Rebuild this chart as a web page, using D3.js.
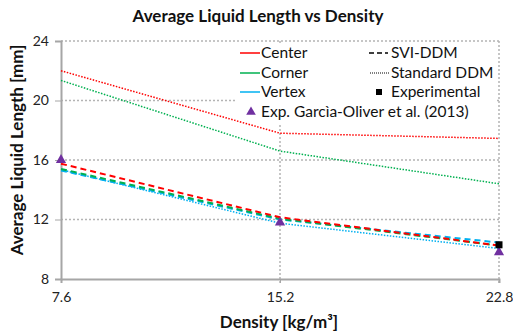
<!DOCTYPE html>
<html><head><meta charset="utf-8">
<script src="https://cdn.jsdelivr.net/npm/d3@7"></script>
<style>body{margin:0;background:#fff}svg{display:block;font-family:Lato,"Noto Sans",sans-serif}</style>
</head><body>
<svg id="c" width="513" height="335"></svg>
<script>
const densities = [7.6, 15.2, 22.8];
const yTicks = [8, 12, 16, 20, 24];
const sviCenter = [15.75, 12.15, 10.25];
const sviCorner = [15.4, 12.05, 10.25];
const sviVertex = [15.3, 12.0, 10.45];
const stdCenter = [22.0, 17.8, 17.45];
const stdCorner = [21.35, 16.6, 14.4];
const stdVertex = [15.35, 11.75, 10.05];
const experimental = [null, null, 10.3];
const garciaOliver = [16.0, 11.8, 9.8];

const svg = d3.select("#c");
const x = d3.scaleLinear().domain([7.6, 22.8]).range([61, 499]);
const y = d3.scaleLinear().domain([8, 24]).range([279, 41]);
const gridCol = "#b4b4b4", axisCol = "#a6a6a6";

// gridlines
svg.append("g").selectAll("line").data(yTicks.filter(d => d > 8)).join("line")
  .attr("x1", x(7.6)).attr("x2", x(22.8)).attr("y1", d => y(d)).attr("y2", d => y(d))
  .attr("stroke", gridCol).attr("stroke-width", 1.5).attr("stroke-dasharray", "2,2");
svg.append("g").selectAll("line").data(densities.slice(1)).join("line")
  .attr("x1", d => x(d)).attr("x2", d => x(d)).attr("y1", y(24)).attr("y2", y(8) + 4)
  .attr("stroke", gridCol).attr("stroke-width", 1.5).attr("stroke-dasharray", "2,2");

// legend background
svg.append("rect").attr("x", 237).attr("y", 43).attr("width", 259).attr("height", 81).attr("fill", "#fff");

// axes
const yAxis = d3.axisLeft(y).tickValues(yTicks).tickSize(6).tickFormat(d3.format("d"));
const gy = svg.append("g").attr("transform", `translate(${x(7.6)},0)`).call(yAxis);
gy.select(".domain").attr("stroke", axisCol).attr("stroke-width", 2);
gy.selectAll(".tick line").attr("stroke", axisCol);
gy.selectAll(".tick text").attr("font-size", 14).attr("fill", "#222").attr("x", -12).style("font-family", "Lato");
const xAxis = d3.axisBottom(x).tickValues(densities).tickSize(4).tickFormat(d3.format(".1f"));
const gx = svg.append("g").attr("transform", `translate(0,${y(8)})`).call(xAxis);
gx.select(".domain").attr("stroke", axisCol).attr("stroke-width", 2);
gx.selectAll(".tick line").attr("stroke", axisCol);
gx.selectAll(".tick text").attr("font-size", 14).attr("fill", "#222").attr("y", 13).style("font-family", "Lato");

// lines
const line = d3.line().defined(d => d[1] != null).x(d => x(d[0])).y(d => y(d[1])).curve(d3.curveLinear);
const series = [
  {v: stdCenter, c: "#ff0000", dash: "1.5,1.5", w: 1.5},
  {v: stdCorner, c: "#00b050", dash: "1.5,1.5", w: 1.5},
  {v: stdVertex, c: "#00b0f0", dash: "1.5,1.5", w: 1.5},
  {v: sviVertex, c: "#00b0f0", dash: "6,4", w: 2},
  {v: sviCorner, c: "#00b050", dash: "6,4", w: 2},
  {v: sviCenter, c: "#ff0000", dash: "6,4", w: 2},
];
series.forEach(s => {
  svg.append("path").datum(densities.map((d, i) => [d, s.v[i]]))
    .attr("d", line).attr("fill", "none").attr("stroke", s.c)
    .attr("stroke-width", s.w).attr("stroke-dasharray", s.dash);
});

// markers
const tri = d3.symbol().type(d3.symbolTriangle).size(45);
svg.append("g").selectAll("path").data(densities.map((d, i) => [d, garciaOliver[i]]).filter(d => d[1] != null)).join("path")
  .attr("d", tri).attr("transform", d => `translate(${x(d[0])},${y(d[1])})`).attr("fill", "#7030a0");
svg.append("g").selectAll("rect").data(densities.map((d, i) => [d, experimental[i]]).filter(d => d[1] != null)).join("rect")
  .attr("x", d => x(d[0]) - 3.5).attr("y", d => y(d[1]) - 3.5).attr("width", 7).attr("height", 7).attr("fill", "#000");

// legend
const lg = svg.append("g").attr("font-size", 15.5).attr("fill", "#111");
const leftItems = [["Center", "#ff0000", 53], ["Corner", "#00b050", 73], ["Vertex", "#00b0f0", 92]];
leftItems.forEach(([t, c, yy]) => {
  lg.append("line").attr("x1", 240).attr("x2", 260).attr("y1", yy).attr("y2", yy).attr("stroke", c).attr("stroke-width", 1.5);
  lg.append("text").attr("x", 261).attr("y", yy).attr("dy", "0.35em").text(t);
});
lg.append("path").attr("d", d3.symbol().type(d3.symbolTriangle).size(40)).attr("transform", "translate(251,112)").attr("fill", "#7030a0");
lg.append("text").attr("x", 261).attr("y", 112).attr("dy", "0.35em").text("Exp. Garcìa-Oliver et al. (2013)");
lg.append("line").attr("x1", 369).attr("x2", 388).attr("y1", 53).attr("y2", 53).attr("stroke", "#000").attr("stroke-width", 1.5).attr("stroke-dasharray", "5,3");
lg.append("text").attr("x", 391).attr("y", 53).attr("dy", "0.35em").text("SVI-DDM");
lg.append("line").attr("x1", 370).attr("x2", 389).attr("y1", 73).attr("y2", 73).attr("stroke", "#000").attr("stroke-width", 1).attr("stroke-dasharray", "1,1");
lg.append("text").attr("x", 391).attr("y", 73).attr("dy", "0.35em").text("Standard DDM");
lg.append("rect").attr("x", 376).attr("y", 89).attr("width", 6).attr("height", 6).attr("fill", "#000");
lg.append("text").attr("x", 391).attr("y", 92).attr("dy", "0.35em").text("Experimental");

// titles
svg.append("text").attr("x", 258).attr("y", 22).attr("text-anchor", "middle").attr("font-size", 17).attr("font-weight", "bold").attr("fill", "#111").text("Average Liquid Length vs Density");
svg.append("text").attr("x", 279).attr("y", 328).attr("text-anchor", "middle").attr("font-size", 17).attr("font-weight", "bold").attr("fill", "#111").text("Density [kg/m³]");
svg.append("text").attr("transform", "translate(23,150) rotate(-90)").attr("text-anchor", "middle").attr("font-size", 17).attr("font-weight", "bold").attr("fill", "#111").text("Average Liquid Length [mm]");
</script>
</body></html>
